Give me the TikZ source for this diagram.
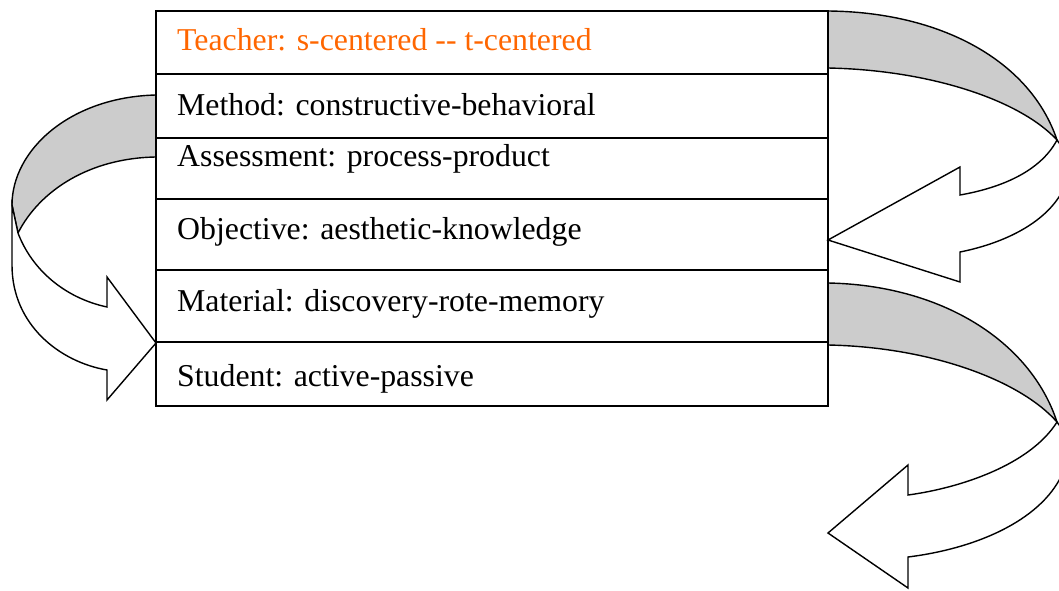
\documentclass[tikz,border=0pt]{standalone}
\usepackage{fontspec}
\setmainfont{Liberation Serif}
\definecolor{tcol}{RGB}{255,102,0}
\definecolor{bandgray}{RGB}{204,204,204}
\begin{document}
\begin{tikzpicture}[x=1pt,y=-1pt,
  rowbox/.style={draw, line width=1.6pt, minimum width=672pt, inner sep=0pt, outer sep=0pt, anchor=north west},
  label/.style={anchor=base west, inner sep=0pt, font=\fontsize{31.8pt}{36pt}\selectfont},
  ribbon/.style={draw, line width=1.4pt, line join=miter},
  back/.style={ribbon, fill=bandgray},
  front/.style={ribbon, fill=white}]
\useasboundingbox (0,0) rectangle (1059,591);
% left arrow
\draw[back] (156,95) .. controls (70,97) and (12,150) .. (12,205) -- (18,233)
  .. controls (40,190) and (90,158) .. (156,157) -- cycle;
\draw[front] (12,205) -- (12,265) .. controls (12,325) and (60,362) .. (107,370)
  -- (107,400) -- (156,343) -- (107,277) -- (107,307)
  .. controls (65,298) and (32,270) .. (18,233) -- cycle;
% top right arrow
\draw[back] (828,11) .. controls (940,12) and (1030,60) .. (1057,140)
  .. controls (1020,100) and (930,70) .. (828,68) -- cycle;
\draw[front] (1057,140) .. controls (1040,172) and (1000,188) .. (960,195)
  -- (960,167) -- (828,240) -- (960,282) -- (960,252)
  .. controls (1005,243) and (1048,222) .. (1064,188) -- (1064,150) -- cycle;
% bottom right arrow
\draw[back] (828,283) .. controls (940,285) and (1030,340) .. (1057,422)
  .. controls (1020,380) and (930,347) .. (828,345) -- cycle;
\draw[front] (1057,422) .. controls (1030,465) and (960,488) .. (908,495)
  -- (908,465) -- (828,533) -- (908,588) -- (908,557)
  .. controls (980,548) and (1045,518) .. (1064,470) -- (1064,432) -- cycle;
% box rows
\node[rowbox, minimum height=63pt] (r1) at (156,11) {};
\node[rowbox, minimum height=64pt] (r2) at (156,74) {};
\node[rowbox, minimum height=61pt] (r3) at (156,138) {};
\node[rowbox, minimum height=71pt] (r4) at (156,199) {};
\node[rowbox, minimum height=72pt] (r5) at (156,270) {};
\node[rowbox, minimum height=64pt] (r6) at (156,342) {};
% labels
\node[label, text=tcol] (t1) at (177,51) {Teacher: s-centered -{}- t-centered};
\node[label] (t2) at (177,115) {Method: constructive-behavioral};
\node[label] (t3) at (177,166) {Assessment: process-product};
\node[label] (t4) at (177,239) {Objective: aesthetic-knowledge};
\node[label] (t5) at (177,311) {Material: discovery-rote-memory};
\node[label] (t6) at (177,386) {Student: active-passive};
\end{tikzpicture}
\end{document}
